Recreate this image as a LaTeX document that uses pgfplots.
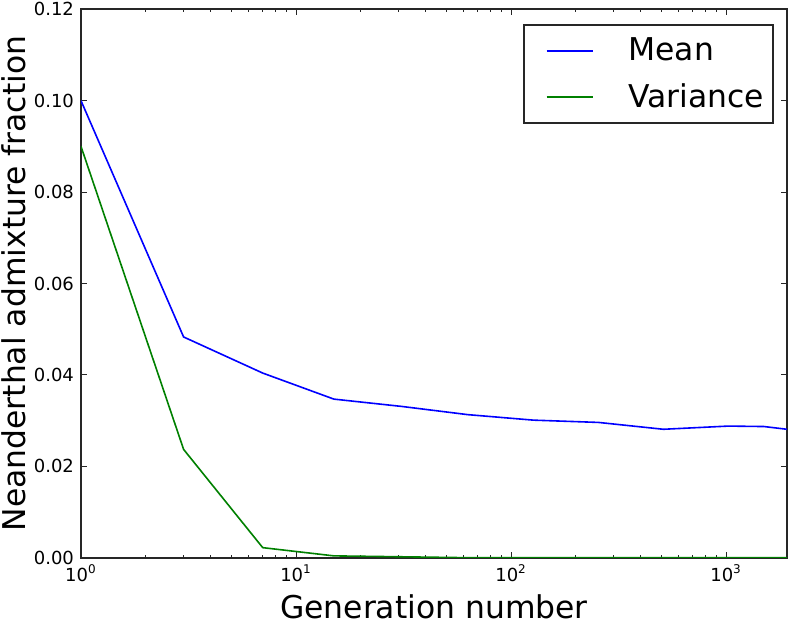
\documentclass[border=0pt]{standalone}
\usepackage{fontspec}
\setmainfont{DejaVu Sans}
\usepackage{pgfplots}
\pgfplotsset{compat=1.18}
\definecolor{mplblue}{rgb}{0,0,1}
\definecolor{mplgreen}{rgb}{0,0.5,0}
\begin{document}
\begin{tikzpicture}
\begin{axis}[
  scale only axis, width=353pt, height=274.2pt,
  xmode=log, xmin=1, xmax=1920, ymin=0, ymax=0.12,
  ytick={0,0.02,0.04,0.06,0.08,0.10,0.12},
  yticklabel style={/pgf/number format/.cd, fixed, fixed zerofill, precision=2, assume math mode=true},
  xtick={1,10,100,1000},
  xticklabels={10\textsuperscript{0},10\textsuperscript{1},10\textsuperscript{2},10\textsuperscript{3}},
  minor xtick={2,3,4,5,6,7,8,9,20,30,40,50,60,70,80,90,200,300,400,500,600,700,800,900},
  tick label style={font=\fontsize{9}{10.5}\selectfont},
  tick align=inside, major tick length=2.8pt, minor tick length=1.5pt,
  tick style={black!85, line width=0.5pt},
  axis line style={black!85, line width=0.8pt},
  xlabel={Generation number}, ylabel={Neanderthal admixture fraction},
  label style={font=\fontsize{15.7}{18}\selectfont},
  xlabel style={at={([yshift=-30.6pt]axis description cs:0.5,0)}, anchor=base, inner sep=0pt},
  ylabel style={at={([xshift=-27.5pt]axis description cs:0,0.5)}, anchor=base, inner sep=0pt},
  legend style={at={(axis description cs:1,1)}, anchor=north east, xshift=-6.5pt, yshift=-7.5pt,
    draw=black!85, line width=0.8pt, font=\fontsize{15.7}{18}\selectfont,
    row sep=9.6pt, column sep=17.5pt,
    inner xsep=4.5pt, inner ysep=6.5pt, nodes={inner sep=0pt}},
  legend cell align=left,
  legend image code/.code={\path (0pt,0pt); \draw[#1, line width=0.9pt] (6.5pt,0pt) -- (29.5pt,0pt);},
]
\addplot[mplblue, line width=0.8pt] coordinates {
(1,0.100) (3,0.0483) (7,0.0404) (15,0.0347) (31,0.0331) (63,0.0313) (127,0.0301) (255,0.0296) (511,0.0281) (1023,0.0288) (1500,0.0287) (1920,0.0281)
};
\addlegendentry{Mean}
\addplot[mplgreen, line width=0.8pt] coordinates {
(1,0.090) (3,0.0237) (7,0.0022) (15,0.0004) (31,0.0002) (63,0.0) (127,0.0) (255,0.0) (511,0.0) (1023,0.0) (1500,0.0) (1920,0.0)
};
\addlegendentry{Variance}
\end{axis}
\pgfresetboundingbox
\path ([shift={(-40.5pt,-32.7pt)}]current axis.south west) rectangle ([shift={(3pt,4.65pt)}]current axis.north east);
\end{tikzpicture}
\end{document}
